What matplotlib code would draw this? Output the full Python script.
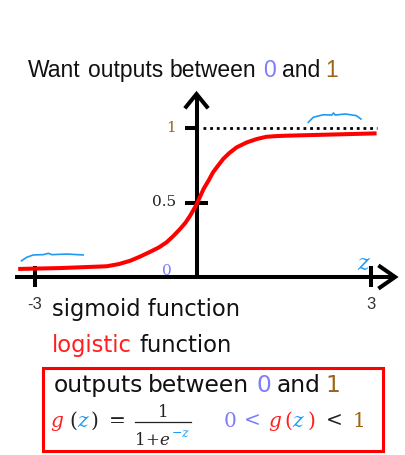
import numpy as np
import matplotlib.pyplot as plt
from matplotlib.lines import Line2D
from matplotlib.patches import Rectangle

W, H = 406, 456

# Colours used on the slide
RED = '#ff0000'
TXT_RED = '#ff1f1f'
BLUE = '#1e9af5'
LAV = '#7c7cff'
BROWN = '#9c6418'
DARK = '#222222'

# Sigmoid curve as drawn on the slide
curve_z = [-3.30, -2.55, -1.72, -1.50, -1.30, -1.13, -0.95, -0.79, -0.65, -0.53,
           -0.41, -0.31, -0.23, -0.12, 0.01, 0.10, 0.18, 0.27, 0.36, 0.47,
           0.60, 0.78, 0.96, 1.13, 1.32, 1.55, 3.10]
curve_g = [0.054, 0.060, 0.072, 0.087, 0.109, 0.136, 0.168, 0.198, 0.233, 0.275,
           0.322, 0.366, 0.411, 0.483, 0.591, 0.648, 0.703, 0.748, 0.792, 0.832,
           0.870, 0.903, 0.926, 0.941, 0.946, 0.949, 0.964]

# hand-drawn blue squiggles near the asymptotes
sq_left_z = [-3.24, -3.15, -3.03, -2.85, -2.76, -2.70, -2.43, -2.14]
sq_left_g = [0.109, 0.132, 0.148, 0.150, 0.159, 0.150, 0.154, 0.148]
sq_right_z = [1.88, 1.97, 2.15, 2.30, 2.33, 2.36, 2.54, 2.74, 2.82]
sq_right_g = [1.038, 1.072, 1.089, 1.087, 1.101, 1.087, 1.094, 1.083, 1.060]

y_ticks = [0.5, 1.0]
y_tick_labels = ['0.5', '1']
y_tick_colors = [DARK, BROWN]
x_ticks = [-3, 3]
x_tick_labels = ['-3', '3']

fig = plt.figure(figsize=(W / 100, H / 100), dpi=100)
fig.patch.set_facecolor('white')
ax = fig.add_axes([0, 0, 1, 1])
ax.set_xlim(-3.625, 3.625)
ax.set_ylim(-1.1946, 1.8658)
ax.axis('off')

# Axes (drawn by hand like the slide)
axis_z = -0.116
x_lo, x_hi = -3.36, 3.43
y_top = 1.228
lw_ax = 2.9
ax.plot([x_lo, x_hi], [0, 0], color='black', lw=lw_ax, solid_capstyle='butt')
ax.plot([x_hi - 0.298, x_hi, x_hi - 0.298], [0.078, 0, -0.078], color='black',
        lw=lw_ax, solid_joinstyle='miter', solid_capstyle='butt')
ax.plot([axis_z, axis_z], [0, y_top], color='black', lw=lw_ax, solid_capstyle='butt')
ax.plot([axis_z - 0.208, axis_z, axis_z + 0.208], [y_top - 0.096, y_top, y_top - 0.096],
        color='black', lw=lw_ax, solid_joinstyle='miter', solid_capstyle='butt')

for v, lab, c in zip(y_ticks, y_tick_labels, y_tick_colors):
    right = axis_z + (0.205 if v < 1 else 0)
    ax.plot([axis_z - 0.205, right], [v, v], color='black', lw=lw_ax, solid_capstyle='butt')
    ax.text(axis_z - 0.36, v + 0.01, lab, ha='right', va='center', color=c,
            fontsize=11, family='DejaVu Serif')

# dotted asymptote at 1
ax.plot([0.0, 3.11], [1, 1], color='black', lw=2.0, ls=(0, (1, 1.4)))

for t, lab in zip(x_ticks, x_tick_labels):
    ax.plot([t, t], [0.074, -0.07], color='black', lw=lw_ax, solid_capstyle='butt')
    ax.text(t, -0.13, lab, ha='center', va='top', color='#333333', fontsize=12,
            family='Liberation Sans')

ax.text(axis_z - 0.44, 0.02, '0', ha='right', va='baseline', color=LAV, fontsize=11,
        family='DejaVu Serif')
ax.text(2.86, 0.094, 'z', ha='center', va='center', color=BLUE, fontsize=16,
        family='DejaVu Serif', style='italic')

# the curve and squiggles
ax.plot(curve_z, curve_g, color=RED, lw=2.9, solid_joinstyle='round', solid_capstyle='butt')
ax.plot(sq_left_z, sq_left_g, color=BLUE, lw=1.2)
ax.plot(sq_right_z, sq_right_g, color=BLUE, lw=1.2)


def put(x, y, s, **kw):
    kw.setdefault('va', 'baseline')
    kw.setdefault('ha', 'left')
    return fig.text(x / W, 1 - y / H, s, **kw)


# title
tk = dict(fontsize=16.5, family='Liberation Sans', color='#111111')
put(28.3, 77.5, 'Want', **tk)
put(88.3, 77.5, 'outputs', **tk)
put(170, 77.5, 'between', **tk)
put(263.3, 77.5, '0', **{**tk, 'color': LAV})
put(281.7, 77.5, 'and', **tk)
put(325, 77.5, '1', **{**tk, 'color': BROWN})

# body text
bk = dict(fontsize=16.3, family='DejaVu Sans', color='#111111')
put(51.7, 316, 'sigmoid function', **bk)
put(51.7, 351.7, 'logistic', **{**bk, 'color': TXT_RED})
put(140, 351.7, 'function', **bk)

ok = {**bk, 'fontsize': 16.8}
put(53.3, 391.7, 'outputs', **ok)
put(148.3, 391.7, 'between', **ok)
put(256.7, 391.7, '0', **{**ok, 'color': LAV})
put(276.7, 391.7, 'and', **ok)
put(325, 391.7, '1', **{**ok, 'color': BROWN})

# formula line
fk = dict(fontsize=14.5, family='DejaVu Serif', color=DARK)
base = 427
put(50.5, base, 'g', **{**fk, 'color': TXT_RED, 'style': 'italic'})
put(69.5, base, '(', **fk)
put(77.5, base, 'z', **{**fk, 'color': BLUE, 'style': 'italic'})
put(91, base, ')', **fk)
put(109, base, '=', **fk)

# fraction 1 / (1 + e^-z)
sk = {**fk, 'fontsize': 12}
put(163, 416.7, '1', **{**sk, 'ha': 'center'})
fig.add_artist(Line2D([135 / W, 190.7 / W], [1 - 422.7 / H, 1 - 422.7 / H],
                      color=DARK, lw=0.9, transform=fig.transFigure))
put(135, 445, '1', **sk)
put(145.5, 445, '+', **sk)
put(159, 445, 'e', **{**sk, 'style': 'italic'})
put(171.8, 437.3, '\u2212', **{**sk, 'fontsize': 9, 'color': BLUE})
put(180.8, 437.3, 'z', **{**sk, 'fontsize': 9, 'color': BLUE, 'style': 'italic'})

put(224, base, '0', **{**fk, 'color': LAV})
put(244, base, '<', **{**fk, 'color': LAV})
put(268.5, base, 'g', **{**fk, 'color': TXT_RED, 'style': 'italic'})
put(284.5, base, '(', **{**fk, 'color': TXT_RED})
put(292.5, base, 'z', **{**fk, 'color': BLUE, 'style': 'italic'})
put(307.5, base, ')', **{**fk, 'color': TXT_RED})
put(325.5, base, '<', **fk)
put(352.5, base, '1', **{**fk, 'color': BROWN})

# red box around the summary
fig.add_artist(Rectangle((43.3 / W, 1 - 452 / H), 340 / W, 83 / H, fill=False,
                         ec=RED, lw=2.2, transform=fig.transFigure))

fig.savefig('out.png', dpi=100)
